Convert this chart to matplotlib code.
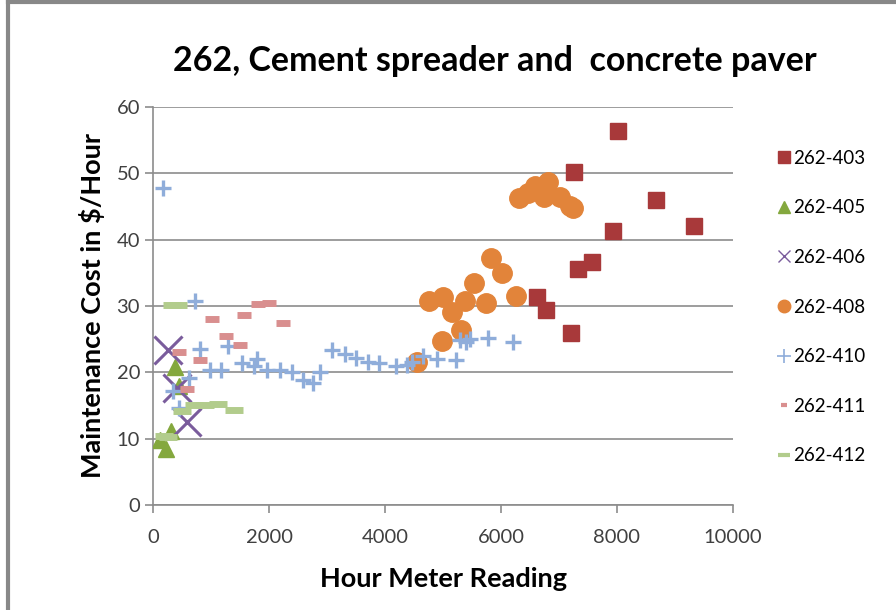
import matplotlib.pyplot as plt
from matplotlib.lines import Line2D

plt.rcParams["font.family"] = ["Lato", "DejaVu Sans"]

# readings (hours) and cost ($/hour) per unit
x_403 = [6626, 6776, 7201, 7264, 7322, 7574, 7937, 8017, 8667, 9333]
y_403 = [31.3, 29.4, 25.9, 50.1, 35.5, 36.6, 41.3, 56.3, 45.9, 42.1]

x_405 = [110, 220, 300, 380, 450]
y_405 = [9.8, 8.5, 11.2, 20.8, 18.0]

x_406 = [247, 408, 580]
y_406 = [23.3, 17.7, 12.5]

x_408 = [4557, 4764, 4977, 5005, 5160, 5310, 5379, 5534, 5741, 5828,
         6012, 6259, 6310, 6471, 6586, 6741, 6805, 7017, 7190, 7236]
y_408 = [21.6, 30.7, 24.7, 31.4, 29.1, 26.4, 30.7, 33.4, 30.4, 37.2,
         35.0, 31.5, 46.3, 47.0, 48.0, 46.4, 48.7, 46.4, 45.0, 44.7]

x_410 = [161, 333, 437, 615, 713, 799, 983, 1172, 1282, 1540,
         1730, 1787, 1971, 2190, 2391, 2592, 2753, 2879, 3086, 3310,
         3500, 3713, 3902, 4190, 4374, 4460, 4661, 4891, 5224, 5293,
         5400, 5466, 5781, 6202]
y_410 = [47.8, 17.2, 14.6, 19.1, 30.8, 23.5, 20.3, 20.4, 23.9, 21.4,
         21.0, 22.0, 20.3, 20.3, 20.0, 18.9, 18.4, 20.0, 23.4, 22.8,
         22.2, 21.6, 21.4, 21.0, 21.1, 21.6, 22.4, 22.0, 21.8, 24.8,
         24.5, 25.0, 25.2, 24.5]

x_411 = [437, 580, 799, 1011, 1259, 1500, 1569, 1816, 1989, 2247]
y_411 = [23.0, 17.5, 21.9, 28.1, 25.4, 24.1, 28.7, 30.3, 30.5, 27.5]

x_412 = [180, 260, 330, 420, 494, 695, 897, 1126, 1385]
y_412 = [10.4, 10.3, 30.1, 30.1, 14.2, 15.0, 15.0, 15.2, 14.3]

fig = plt.figure(figsize=(8.96, 6.10), dpi=100)
ax = fig.add_axes([0.171, 0.172, 0.647, 0.653])

ax.plot(x_403, y_403, "s", color="#A8393A", ms=12, label="262-403", zorder=3)
ax.plot(x_405, y_405, "^", color="#84A83E", ms=12, label="262-405", zorder=3)
ax.plot(x_406, y_406, "x", color="#7A5C9C", ms=20, mew=2.2, label="262-406", zorder=3)
ax.plot(x_408, y_408, "o", color="#E2843A", ms=14, label="262-408", zorder=3)
ax.plot(x_410, y_410, "+", color="#8FADDA", ms=11, mew=2.4, label="262-410", zorder=3)
ax.plot(x_411, y_411, "_", color="#D98F8F", ms=10, mew=5, label="262-411", zorder=3)
ax.plot(x_412, y_412, "_", color="#B2CC8C", ms=13, mew=5, label="262-412", zorder=3)

ax.set_xlim(0, 10000)
ax.set_ylim(0, 60)
ax.set_xticks(range(0, 10001, 2000))
ax.set_yticks(range(0, 61, 10))
ax.grid(axis="y", color="#8C8C8C", lw=1.2)
ax.set_axisbelow(True)
for s in ["top", "right"]:
    ax.spines[s].set_visible(False)
for s in ["left", "bottom"]:
    ax.spines[s].set_color("#8C8C8C")
    ax.spines[s].set_linewidth(1.2)
ax.tick_params(colors="#8C8C8C", labelcolor="#404040", labelsize=14.5, length=6, width=1.2)
ax.tick_params(axis="x", pad=11)

ax.set_title("262, Cement spreader and  concrete paver", fontsize=24.5, fontweight="bold",
             pad=26, x=0.59)
ax.set_xlabel("Hour Meter Reading", fontsize=19.5, fontweight="bold", labelpad=15)
ax.set_ylabel("Maintenance Cost in $/Hour", fontsize=19.5, fontweight="bold", labelpad=8)

# legend with small markers
handles = [
    Line2D([], [], ls="", marker="s", color="#A8393A", ms=9),
    Line2D([], [], ls="", marker="^", color="#84A83E", ms=9),
    Line2D([], [], ls="", marker="x", color="#7A5C9C", ms=9, mew=1),
    Line2D([], [], ls="", marker="o", color="#E2843A", ms=9),
    Line2D([], [], ls="", marker="+", color="#8FADDA", ms=10, mew=1.2),
    Line2D([], [], ls="", marker="_", color="#D98F8F", ms=5, mew=3),
    Line2D([], [], ls="", marker="_", color="#B2CC8C", ms=9, mew=3),
]
labels = ["262-403", "262-405", "262-406", "262-408", "262-410", "262-411", "262-412"]
fig.legend(handles, labels, loc="upper left", bbox_to_anchor=(0.857, 0.770),
           frameon=False, fontsize=13.5, handlelength=0.7, handletextpad=0.15,
           labelspacing=1.74, borderpad=0)

# chart border
fig.add_artist(Line2D([0.009, 0.009], [0, 0.996], color="#888888", lw=3, transform=fig.transFigure))
fig.add_artist(Line2D([0.009, 1], [0.996, 0.996], color="#888888", lw=3, transform=fig.transFigure))

fig.savefig("out.png", dpi=100)
